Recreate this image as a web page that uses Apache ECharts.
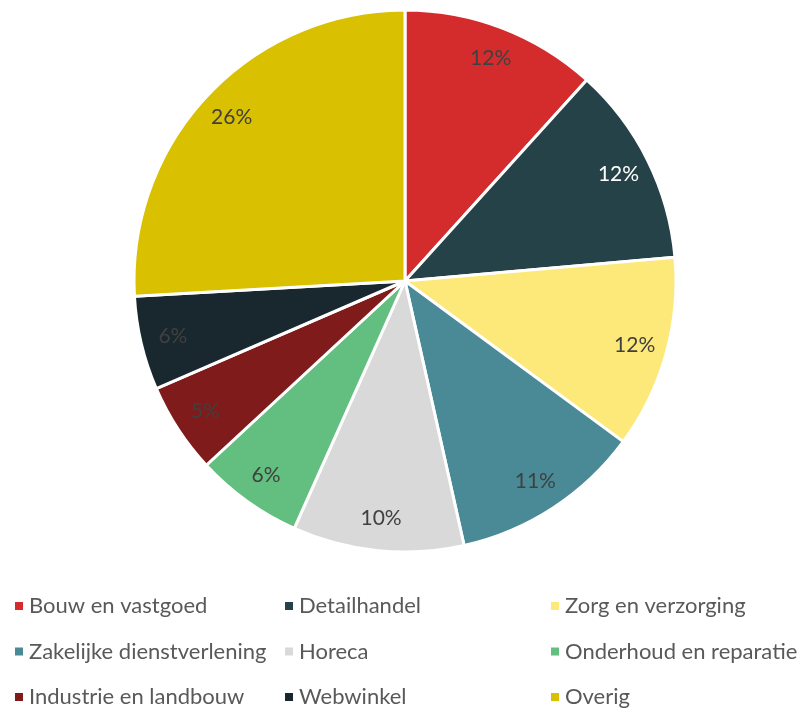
<!DOCTYPE html>
<html><head><meta charset="utf-8">
<script src="https://cdn.jsdelivr.net/npm/echarts@6/dist/echarts.min.js"></script>
<style>html,body{margin:0;padding:0;background:#fff}#c{width:808px;height:711px}</style>
</head><body><div id="c"></div>
<script>
const categories = ['Bouw en vastgoed','Detailhandel','Zorg en verzorging','Zakelijke dienstverlening','Horeca','Onderhoud en reparatie','Industrie en landbouw','Webwinkel','Overig'];
const values = [11.7, 11.9, 11.5, 11.4, 10.2, 6.4, 5.4, 5.6, 25.9];
const colors = ['#D42C2C','#264249','#FDE97A','#498A96','#D9D9D9','#63BF7F','#7F1B1B','#18282E','#D9C000'];
const labelColors = ['#404040','#FFFFFF','#404040','#404040','#404040','#404040','#404040','#404040','#404040'];
const legendCols = [
  ['Bouw en vastgoed','Zakelijke dienstverlening','Industrie en landbouw'],
  ['Detailhandel','Horeca','Webwinkel'],
  ['Zorg en verzorging','Onderhoud en reparatie','Overig']
];
const legendX = [8, 278, 544];
const font = 'Lato, "Open Sans", sans-serif';

const chart = echarts.init(document.getElementById('c'));
const data = categories.map((n,i)=>({name:n,value:values[i],itemStyle:{color:colors[i]},label:{color:labelColors[i]}}));
chart.setOption({
  animation:false,
  legend: legendCols.map((col,i)=>({
    type:'plain', data: col, orient:'vertical', left: legendX[i], top: 590, height: 200,
    itemWidth:10, itemHeight:10, itemGap:23.5, icon:'rect',
    textStyle:{fontFamily:font, fontSize:22, color:'#595959'},
    selectedMode:false
  })),
  series:[
    {type:'pie', center:[405,281], radius:[0,271], startAngle:90, clockwise:true,
     data:data, label:{show:false}, labelLine:{show:false},
     itemStyle:{borderColor:'#fff', borderWidth:3}, emphasis:{disabled:true}, silent:true},
    {type:'pie', center:[405,281], radius:[200,271], startAngle:90, clockwise:true,
     data:data.map(d=>({name:d.name,value:d.value,label:d.label})),
     itemStyle:{color:'rgba(0,0,0,0)'},
     label:{show:true, position:'inside', fontFamily:font, fontSize:21,
       formatter:p=>Math.round(p.percent)+'%'},
     labelLine:{show:false}, emphasis:{disabled:true}, silent:true, legendHoverLink:false}
  ]
});
</script></body></html>
